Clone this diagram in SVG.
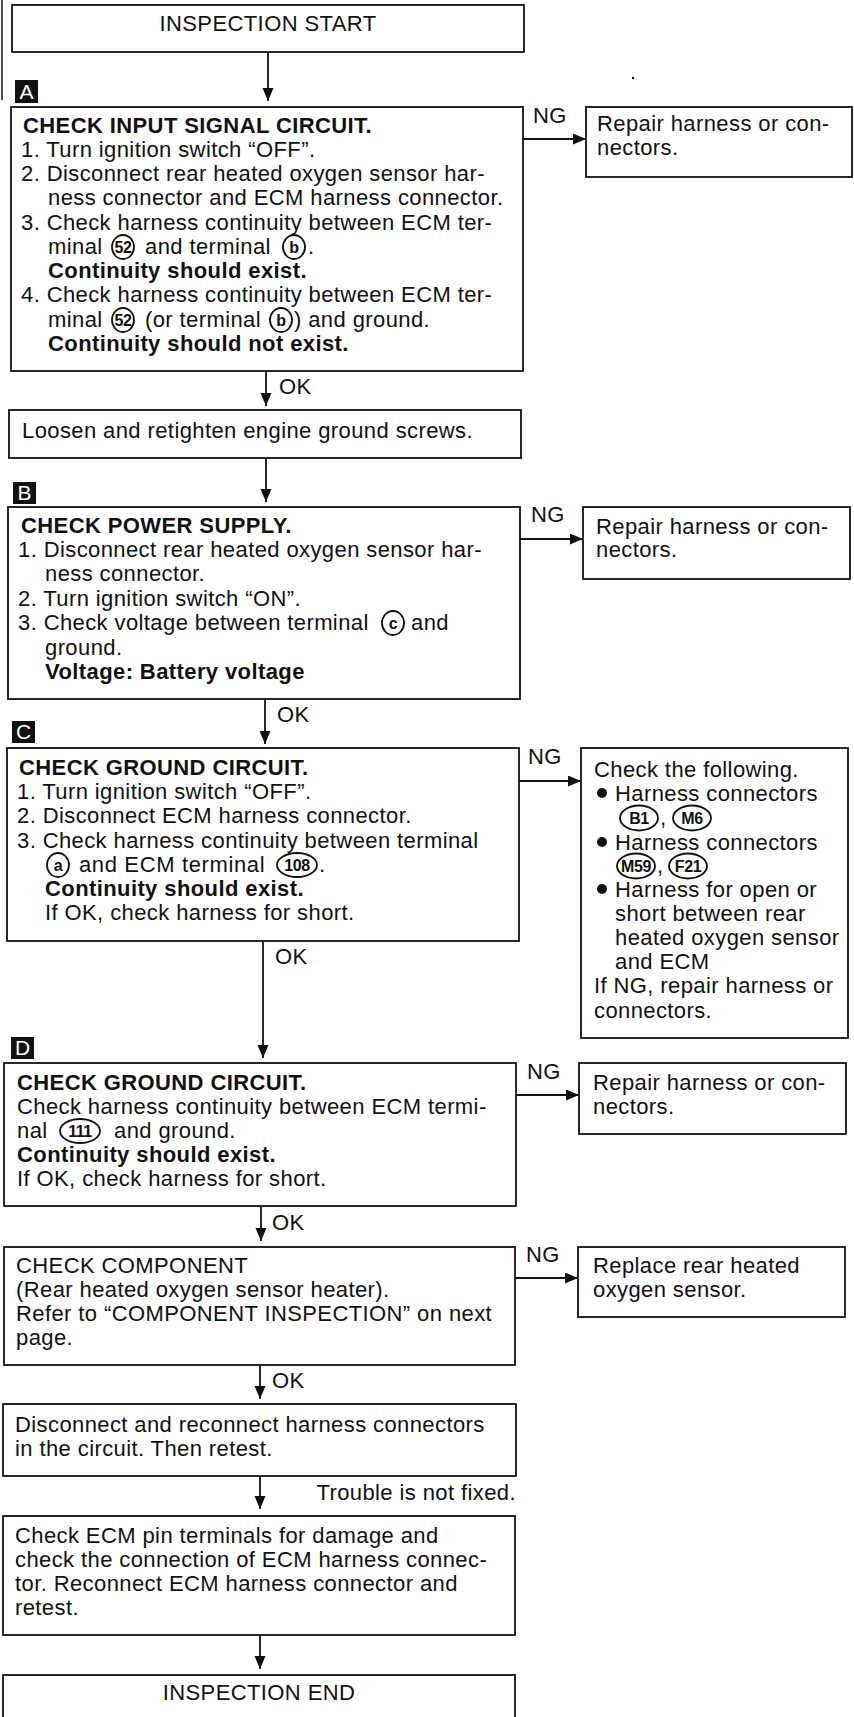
<svg xmlns="http://www.w3.org/2000/svg" width="854" height="1717" viewBox="0 0 854 1717">
<style>
text{font-family:"Liberation Sans",Arial,sans-serif;font-size:22px;fill:#111;letter-spacing:0.4px}
.b{font-weight:bold}
.box{fill:#fff;stroke:#111;stroke-width:1.8}
.lbl{fill:#111}
.lt{fill:#fff;font-size:21px;text-anchor:middle;letter-spacing:0}
.c{text-anchor:middle}
.ring{fill:none;stroke:#111;stroke-width:1.8}
.rt{font-size:16px;font-weight:bold;text-anchor:middle;letter-spacing:-0.4px}
.ln{stroke:#111;stroke-width:1.8;fill:none}
</style>
<defs>
<marker id="ah" markerUnits="userSpaceOnUse" markerWidth="14" markerHeight="12" refX="13" refY="5.5" orient="auto">
<path d="M0,0 L13,5.5 L0,11 z" fill="#111"/>
</marker>
</defs>
<rect width="854" height="1717" fill="#fff"/>
<line x1="2" y1="0" x2="2" y2="100" stroke="#111" stroke-width="1.5"/>
<circle cx="633" cy="78" r="1.2" fill="#111"/>

<g id="connectors">
<line class="ln" x1="268" y1="52" x2="268" y2="101" marker-end="url(#ah)"/>
<line class="ln" x1="266" y1="371" x2="266" y2="406" marker-end="url(#ah)"/>
<text x="279" y="394">OK</text>
<line class="ln" x1="266" y1="458" x2="266" y2="502" marker-end="url(#ah)"/>
<line class="ln" x1="265" y1="699" x2="265" y2="744" marker-end="url(#ah)"/>
<text x="277" y="722">OK</text>
<line class="ln" x1="263" y1="941" x2="263" y2="1058" marker-end="url(#ah)"/>
<text x="275" y="964">OK</text>
<line class="ln" x1="261" y1="1206" x2="261" y2="1241" marker-end="url(#ah)"/>
<text x="272" y="1230">OK</text>
<line class="ln" x1="260" y1="1365" x2="260" y2="1399" marker-end="url(#ah)"/>
<text x="272" y="1388">OK</text>
<line class="ln" x1="260" y1="1476" x2="260" y2="1509" marker-end="url(#ah)"/>
<text x="516" y="1500" text-anchor="end">Trouble is not fixed.</text>
<line class="ln" x1="260" y1="1635" x2="260" y2="1669" marker-end="url(#ah)"/>
<line class="ln" x1="523" y1="139" x2="586" y2="139" marker-end="url(#ah)"/>
<text x="533" y="123">NG</text>
<line class="ln" x1="520" y1="539" x2="583" y2="539" marker-end="url(#ah)"/>
<text x="531" y="522">NG</text>
<line class="ln" x1="519" y1="781" x2="581" y2="781" marker-end="url(#ah)"/>
<text x="528" y="764">NG</text>
<line class="ln" x1="516" y1="1095" x2="579" y2="1095" marker-end="url(#ah)"/>
<text x="527" y="1079">NG</text>
<line class="ln" x1="515" y1="1278" x2="578" y2="1278" marker-end="url(#ah)"/>
<text x="526" y="1262">NG</text>
</g>

<g id="start">
<rect class="box" x="12" y="5" width="512" height="47"/>
<text class="c" x="268" y="31">INSPECTION START</text>
</g>

<g id="A">
<rect class="lbl" x="15" y="80" width="23" height="23"/>
<text class="lt" x="26.5" y="99">A</text>
<rect class="box" x="11" y="107" width="512" height="264"/>
<text class="b" x="23" y="133">CHECK INPUT SIGNAL CIRCUIT.</text>
<text x="21" y="157">1. Turn ignition switch “OFF”.</text>
<text x="21" y="181">2. Disconnect rear heated oxygen sensor har-</text>
<text x="48" y="205">ness connector and ECM harness connector.</text>
<text x="21" y="230">3. Check harness continuity between ECM ter-</text>
<text x="48" y="254">minal</text>
<ellipse class="ring" cx="123" cy="247" rx="11" ry="12"/>
<text class="rt" x="123" y="252.5">52</text>
<text x="145" y="254">and terminal</text>
<ellipse class="ring" cx="294" cy="247" rx="11" ry="12"/>
<text class="rt" x="294" y="252.5">b</text>
<text x="308" y="254">.</text>
<text class="b" x="48" y="278">Continuity should exist.</text>
<text x="21" y="302">4. Check harness continuity between ECM ter-</text>
<text x="48" y="327">minal</text>
<ellipse class="ring" cx="123" cy="320" rx="11" ry="12"/>
<text class="rt" x="123" y="325.5">52</text>
<text x="145" y="327">(or terminal</text>
<ellipse class="ring" cx="281" cy="320" rx="11" ry="12"/>
<text class="rt" x="281" y="325.5">b</text>
<text x="294" y="327">) and ground.</text>
<text class="b" x="48" y="351">Continuity should not exist.</text>
</g>

<g id="A_ng">
<rect class="box" x="586" y="107" width="266" height="70"/>
<text x="597" y="131">Repair harness or con-</text>
<text x="597" y="155">nectors.</text>
</g>

<g id="loosen">
<rect class="box" x="9" y="410" width="512" height="48"/>
<text x="22" y="438">Loosen and retighten engine ground screws.</text>
</g>

<g id="B">
<rect class="lbl" x="13" y="482" width="23" height="22"/>
<text class="lt" x="24.5" y="500">B</text>
<rect class="box" x="8" y="507" width="512" height="192"/>
<text class="b" x="21" y="533">CHECK POWER SUPPLY.</text>
<text x="18" y="557">1. Disconnect rear heated oxygen sensor har-</text>
<text x="45" y="581">ness connector.</text>
<text x="18" y="606">2. Turn ignition switch “ON”.</text>
<text x="18" y="630">3. Check voltage between terminal</text>
<ellipse class="ring" cx="393" cy="623" rx="11" ry="12"/>
<text class="rt" x="393" y="628.5">c</text>
<text x="411" y="630">and</text>
<text x="45" y="655">ground.</text>
<text class="b" x="45" y="679">Voltage: Battery voltage</text>
</g>

<g id="B_ng">
<rect class="box" x="583" y="507" width="267" height="72"/>
<text x="596" y="534">Repair harness or con-</text>
<text x="596" y="557">nectors.</text>
</g>

<g id="C">
<rect class="lbl" x="12" y="721" width="23" height="22"/>
<text class="lt" x="23.5" y="739">C</text>
<rect class="box" x="7" y="748" width="512" height="193"/>
<text class="b" x="19" y="775">CHECK GROUND CIRCUIT.</text>
<text x="17" y="799">1. Turn ignition switch “OFF”.</text>
<text x="17" y="823">2. Disconnect ECM harness connector.</text>
<text x="17" y="848">3. Check harness continuity between terminal</text>
<ellipse class="ring" cx="58" cy="865" rx="11" ry="12"/>
<text class="rt" x="58" y="870.5">a</text>
<text x="79" y="872" textLength="186" lengthAdjust="spacing">and ECM terminal</text>
<ellipse class="ring" cx="297" cy="865" rx="20" ry="12"/>
<text class="rt" x="297" y="870.5">108</text>
<text x="319" y="872">.</text>
<text class="b" x="45" y="896">Continuity should exist.</text>
<text x="45" y="920">If OK, check harness for short.</text>
</g>

<g id="C_ng">
<rect class="box" x="581" y="748" width="267" height="290"/>
<text x="594" y="777">Check the following.</text>
<circle cx="602" cy="793" r="5" fill="#111"/>
<text x="615" y="801">Harness connectors</text>
<ellipse class="ring" cx="639" cy="818" rx="19" ry="12.5"/>
<text class="rt" x="639" y="823.5">B1</text>
<text x="660" y="825">,</text>
<ellipse class="ring" cx="692" cy="818" rx="19" ry="12.5"/>
<text class="rt" x="692" y="823.5">M6</text>
<circle cx="602" cy="842" r="5" fill="#111"/>
<text x="615" y="850">Harness connectors</text>
<ellipse class="ring" cx="636" cy="866" rx="19" ry="12.5"/>
<text class="rt" x="636" y="871.5">M59</text>
<text x="657" y="873">,</text>
<ellipse class="ring" cx="688" cy="866" rx="19" ry="12.5"/>
<text class="rt" x="688" y="871.5">F21</text>
<circle cx="602" cy="889" r="5" fill="#111"/>
<text x="615" y="897">Harness for open or</text>
<text x="615" y="921">short between rear</text>
<text x="615" y="945">heated oxygen sensor</text>
<text x="615" y="969">and ECM</text>
<text x="594" y="993">If NG, repair harness or</text>
<text x="594" y="1018">connectors.</text>
</g>

<g id="D">
<rect class="lbl" x="11" y="1037" width="23" height="22"/>
<text class="lt" x="22.5" y="1055">D</text>
<rect class="box" x="4" y="1063" width="512" height="143"/>
<text class="b" x="17" y="1090">CHECK GROUND CIRCUIT.</text>
<text x="17" y="1114">Check harness continuity between ECM termi-</text>
<text x="17" y="1138">nal</text>
<ellipse class="ring" cx="80" cy="1131" rx="20" ry="12"/>
<text class="rt" x="80" y="1136.5">111</text>
<text x="114" y="1138">and ground.</text>
<text class="b" x="17" y="1162">Continuity should exist.</text>
<text x="17" y="1186">If OK, check harness for short.</text>
</g>

<g id="D_ng">
<rect class="box" x="579" y="1063" width="267" height="71"/>
<text x="593" y="1090">Repair harness or con-</text>
<text x="593" y="1114">nectors.</text>
</g>

<g id="component">
<rect class="box" x="4" y="1247" width="511" height="118"/>
<text x="16" y="1273">CHECK COMPONENT</text>
<text x="16" y="1297">(Rear heated oxygen sensor heater).</text>
<text x="16" y="1321">Refer to “COMPONENT INSPECTION” on next</text>
<text x="16" y="1345">page.</text>
</g>

<g id="component_ng">
<rect class="box" x="578" y="1247" width="267" height="70"/>
<text x="593" y="1273">Replace rear heated</text>
<text x="593" y="1297">oxygen sensor.</text>
</g>

<g id="reconnect">
<rect class="box" x="3" y="1404" width="513" height="72"/>
<text x="15" y="1432">Disconnect and reconnect harness connectors</text>
<text x="15" y="1456">in the circuit. Then retest.</text>
</g>

<g id="ecm_pins">
<rect class="box" x="3" y="1516" width="512" height="119"/>
<text x="15" y="1543">Check ECM pin terminals for damage and</text>
<text x="15" y="1567">check the connection of ECM harness connec-</text>
<text x="15" y="1591">tor. Reconnect ECM harness connector and</text>
<text x="15" y="1615">retest.</text>
</g>

<g id="end">
<rect class="box" x="3" y="1675" width="512" height="60"/>
<text class="c" x="259" y="1700">INSPECTION END</text>
</g>
</svg>
